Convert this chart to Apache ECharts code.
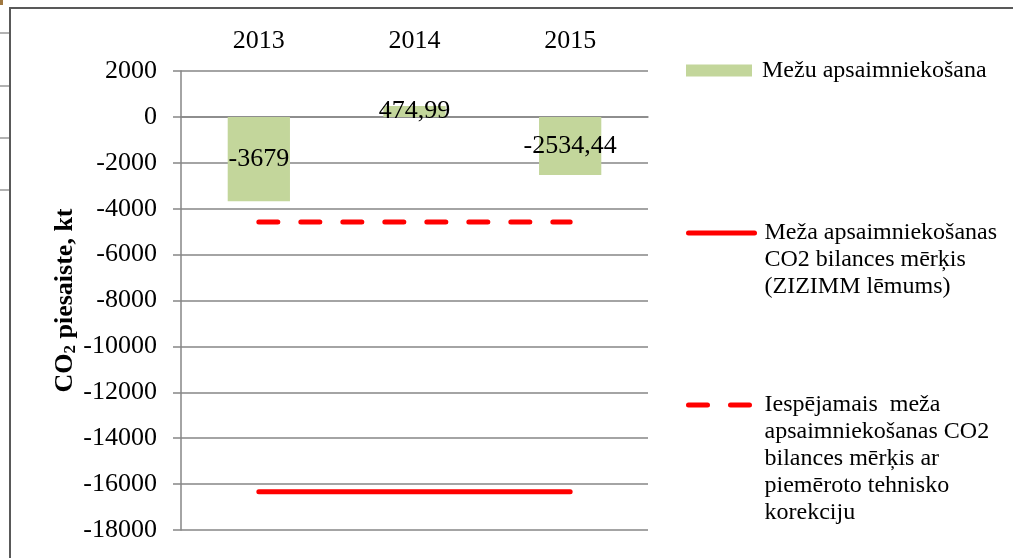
<!DOCTYPE html>
<html>
<head>
<meta charset="utf-8">
<script src="https://cdn.jsdelivr.net/npm/echarts@6/dist/echarts.min.js"></script>
<style>
  html, body { margin: 0; padding: 0; background: #fff; }
  #chart { width: 1013px; height: 558px; }
</style>
</head>
<body>
<div id="chart"></div>
<script>
  // dati
  var years = ['2013', '2014', '2015']
  var mezuApsaimniekosana = [-3679, 474.99, -2534.44]
  var zizimmMerkis = [-16330, -16330, -16330]
  var iespejamaisMerkis = [-4580, -4580, -4580]
  var yTicks = { min: -18000, max: 2000, interval: 2000 }

  var name1 = 'Mežu apsaimniekošana'
  var name2 = 'Meža apsaimniekošanas\nCO2 bilances mērķis\n(ZIZIMM lēmums)'
  var name3 = 'Iespējamais  meža\napsaimniekošanas CO2\nbilances mērķis ar\npiemēroto tehnisko\nkorekciju'

  var FONT = 'Liberation Serif'
  var GRID = '#868686'
  var LH = 27

  // pirmā rinda pret ikonu: priekšā tukšas rindas, lai centrs krīt uz 1. rindu
  function padLines(name) {
    var n = name.split('\n').length
    return new Array(n).join('\n') + name
  }
  // leģendas augša, lai ikonas augša būtu iconTop
  function legendTop(iconTop, name) {
    var n = name.split('\n').length
    return iconTop + 6 - (2 * n - 1) * LH / 2
  }

  var legendTextStyle = { fontFamily: FONT, fontSize: 24, color: '#000', lineHeight: LH, padding: [0, 0, 0, 5] }

  var chart = echarts.init(document.getElementById('chart'))
  var option = {
    animation: false,
    backgroundColor: '#fff',
    grid: { left: 181, right: 365, top: 71, bottom: 28 },
    legend: [{
      data: [{ name: name1, icon: 'rect' }],
      left: 686, top: 57, padding: 0,
      itemWidth: 66, itemHeight: 12,
      textStyle: legendTextStyle
    }, {
      data: [name2],
      left: 686, top: legendTop(227, name2), padding: 0,
      itemWidth: 66, itemHeight: 12,
      formatter: padLines,
      lineStyle: { width: 5, cap: 'round' },
      itemStyle: { opacity: 0 },
      textStyle: legendTextStyle
    }, {
      data: [name3],
      left: 686, top: legendTop(399, name3), padding: 0,
      itemWidth: 66, itemHeight: 12,
      formatter: padLines,
      lineStyle: { width: 5, cap: 'round', type: [19, 23] },
      itemStyle: { opacity: 0 },
      textStyle: legendTextStyle
    }],
    xAxis: [{
      type: 'category',
      data: years,
      position: 'top',
      axisLine: { show: false, onZero: false },
      axisTick: { show: false },
      axisLabel: { fontFamily: FONT, fontSize: 26, color: '#000', margin: 17 },
      splitLine: { show: false }
    }, {
      type: 'category',
      data: years,
      position: 'bottom',
      axisLine: { onZero: true, lineStyle: { color: GRID, width: 1.5 } },
      axisTick: { length: 6, lineStyle: { color: GRID, width: 1.5 } },
      axisLabel: { show: false }
    }],
    yAxis: {
      type: 'value',
      min: yTicks.min, max: yTicks.max, interval: yTicks.interval,
      name: '{a|CO}{s|2}{a| piesaiste, kt}',
      nameLocation: 'middle',
      nameRotate: 90,
      nameGap: 100,
      nameTextStyle: {
        rich: {
          a: { fontFamily: FONT, fontSize: 26, fontWeight: 'bold', color: '#000' },
          s: { fontFamily: FONT, fontSize: 17, fontWeight: 'bold', color: '#000', padding: [12, 0, 0, 0] }
        }
      },
      axisLine: { show: true, lineStyle: { color: GRID, width: 1.5 } },
      axisTick: { show: true, length: 8, lineStyle: { color: GRID, width: 1.5 } },
      axisLabel: {
        fontFamily: FONT, fontSize: 26, color: '#000', margin: 24,
        formatter: function (v) { return String(v) }
      },
      splitLine: { lineStyle: { color: GRID, width: 1.5 } }
    },
    series: [{
      name: name1,
      type: 'bar',
      data: mezuApsaimniekosana,
      barWidth: '40%',
      itemStyle: { color: '#C3D69B' },
      label: {
        show: true, position: 'inside',
        fontFamily: FONT, fontSize: 26, color: '#000',
        formatter: function (p) { return String(p.value).replace('.', ',') }
      }
    }, {
      name: name2,
      type: 'line',
      data: zizimmMerkis,
      symbol: 'none',
      lineStyle: { color: '#FF0000', width: 5, cap: 'round' },
      itemStyle: { color: '#FF0000' }
    }, {
      name: name3,
      type: 'line',
      data: iespejamaisMerkis,
      symbol: 'none',
      lineStyle: { color: '#FF0000', width: 5, cap: 'round', type: [19, 23] },
      itemStyle: { color: '#FF0000' }
    }],
    graphic: [
      { type: 'polyline', shape: { points: [[1013, 8], [10, 8], [10, 558]] }, style: { stroke: '#595959', lineWidth: 2, fill: null } },
      { type: 'line', shape: { x1: 0, y1: 33, x2: 9, y2: 33 }, style: { stroke: '#999', lineWidth: 1.5 } },
      { type: 'line', shape: { x1: 0, y1: 86, x2: 9, y2: 86 }, style: { stroke: '#999', lineWidth: 1.5 } },
      { type: 'line', shape: { x1: 0, y1: 138, x2: 9, y2: 138 }, style: { stroke: '#999', lineWidth: 1.5 } },
      { type: 'line', shape: { x1: 0, y1: 190, x2: 9, y2: 190 }, style: { stroke: '#999', lineWidth: 1.5 } },
      { type: 'rect', shape: { x: 0, y: 0, width: 3, height: 5 }, style: { fill: '#a07840' } }
    ]
  }
  chart.setOption(option)
</script>
</body>
</html>
